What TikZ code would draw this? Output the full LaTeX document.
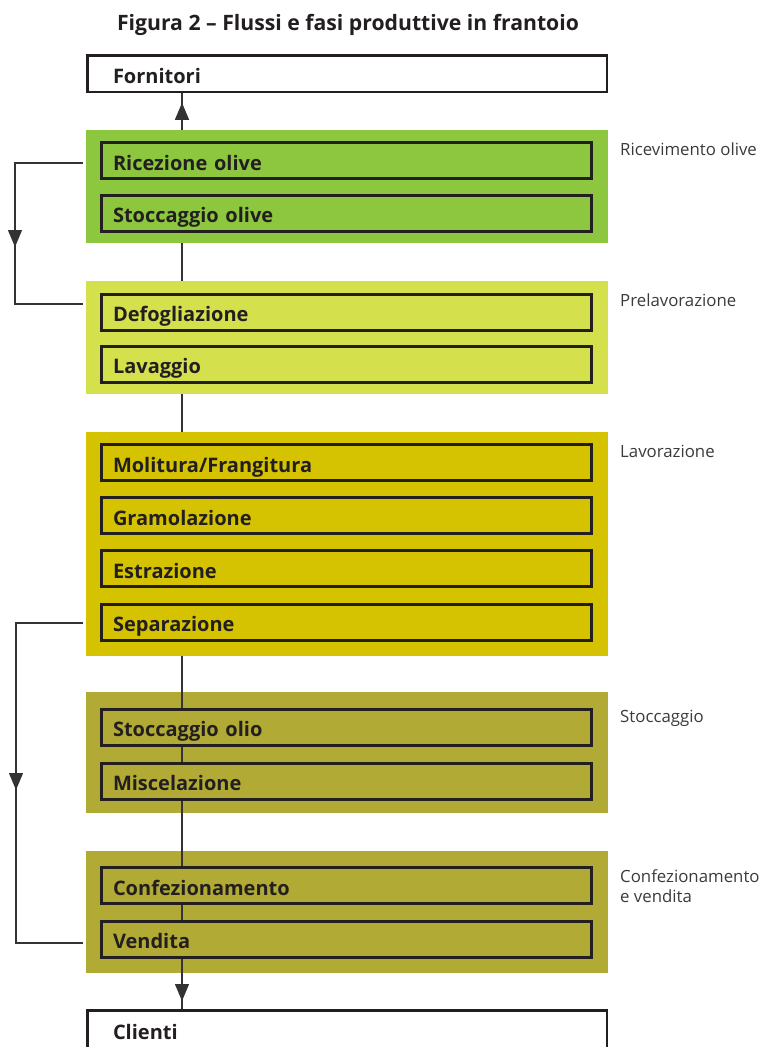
\documentclass[tikz,border=0pt]{standalone}
\usepackage{fontspec}
\setmainfont{Open Sans}
\usetikzlibrary{arrows.meta,decorations.markings}

\definecolor{ink}{HTML}{231F20}
\definecolor{wire}{HTML}{333333}
\definecolor{labelgrey}{HTML}{3A3A3A}
\definecolor{stageA}{HTML}{8DC63F}
\definecolor{stageB}{HTML}{D5E04D}
\definecolor{stageC}{HTML}{D5C200}
\definecolor{stageD}{HTML}{B1AA35}

\begin{document}
\begin{tikzpicture}[x=1pt,y=-1pt,
  stagebg/.style={fill=#1, draw=none, inner sep=0pt, minimum width=522pt},
  phasebox/.style={draw=ink, line width=3pt, fill=#1, text=ink,
    text width=467pt, inner xsep=11.5pt, inner ysep=0pt, align=left,
    minimum height=36pt, text height=19pt, text depth=0pt,
    font=\bfseries\fontsize{20}{22}\selectfont},
  endbox/.style={draw=ink, line width=2.5pt, fill=white, text=ink,
    text width=468pt, inner xsep=25.75pt, inner ysep=0pt, align=left,
    minimum height=36.5pt, text height=19pt, text depth=0pt,
    font=\bfseries\fontsize{20}{22}\selectfont},
  stagelabel/.style={anchor=base west, inner sep=0pt, text=labelgrey,
    font=\fontsize{16.8}{20}\selectfont},
  wireline/.style={draw=wire, line width=1.2pt},
  tipat/.style={postaction={decorate}, decoration={markings,
    mark=at position #1 with {\arrow[wire]{Triangle[width=14pt,length=17pt]}}}}
]
\useasboundingbox (0,0) rectangle (766,1047);

% title
\node[anchor=base, inner sep=0pt, text=ink,
  font=\bfseries\fontsize{21.2}{24}\selectfont] (title) at (348,30)
  {Figura 2 -- Flussi e fasi produttive in frantoio};

% suppliers and customers
\node[endbox] (forn) at (347,73.5) {Fornitori};
\node[endbox, minimum height=38.5pt] (cli) at (347,1029.5) {Clienti};

% stage backgrounds
\node[stagebg=stageA, minimum height=113pt] (g1) at (347,186.5) {};
\node[stagebg=stageB, minimum height=113pt] (g2) at (347,337.5) {};
\node[stagebg=stageC, minimum height=224pt] (g3) at (347,544) {};
\node[stagebg=stageD, minimum height=121pt] (g4) at (347,752.5) {};
\node[stagebg=stageD, minimum height=122pt] (g5) at (347,912) {};

% vertical axis of the main flow
\coordinate (axis) at (182,0);

% flow through the stages (under the phase boxes)
\draw[wireline] (g3.south -| axis) -- (g4.north -| axis);
\draw[wireline] (g4.north -| axis) -- (g4.south -| axis);
\draw[wireline] (g4.south -| axis) -- (g5.north -| axis);
\draw[wireline] (g5.north -| axis) -- (g5.south -| axis);

% phase boxes
\node[phasebox=stageA] (ric) at (346.5,160.5) {Ricezione olive};
\node[phasebox=stageA] (sto) at (346.5,213)   {Stoccaggio olive};
\node[phasebox=stageB] (def) at (346.5,312)   {Defogliazione};
\node[phasebox=stageB] (lav) at (346.5,364)   {Lavaggio};
\node[phasebox=stageC] (mol) at (346.5,462.5) {Molitura/Frangitura};
\node[phasebox=stageC] (gra) at (346.5,515.5) {Gramolazione};
\node[phasebox=stageC] (est) at (346.5,568.5) {Estrazione};
\node[phasebox=stageC] (sep) at (346.5,622)   {Separazione};
\node[phasebox=stageD] (sol) at (346.5,727)   {Stoccaggio olio};
\node[phasebox=stageD] (mis) at (346.5,781)   {Miscelazione};
\node[phasebox=stageD] (con) at (346.5,885.5) {Confezionamento};
\node[phasebox=stageD] (ven) at (346.5,939)   {Vendita};

% stage names
\node[stagelabel] (lab1) at (620,155) {Ricevimento olive};
\node[stagelabel] (lab2) at (620,306) {Prelavorazione};
\node[stagelabel] (lab3) at (620,457) {Lavorazione};
\node[stagelabel] (lab4) at (620,722) {Stoccaggio};
\node[stagelabel] (lab5) at (620,882)
  {\begin{tabular}[t]{@{}l@{}}Confezionamento\\e vendita\end{tabular}};

% main flow between stages
\draw[wireline, tipat=27pt] (g1.north -| axis) -- (forn.south -| axis);
\draw[wireline] (g1.south -| axis) -- (g2.north -| axis);
\draw[wireline] (g2.south -| axis) -- (g3.north -| axis);
\draw[wireline, tipat=42.5pt] (ven.south -| axis) -- (cli.north -| axis);

% side returns
\coordinate (r1a) at (15,163);
\coordinate (r1b) at (15,304);
\draw[wireline, shorten <=3pt, shorten >=3pt]
  (g1.west |- r1a) -- (r1a) -- (r1b) -- (g2.west |- r1b);
\path[wireline, draw=none, tipat=84pt] (r1a) -- (r1b);

\coordinate (r2a) at (16,623);
\coordinate (r2b) at (16,943);
\draw[wireline, shorten <=3pt, shorten >=3pt]
  (g3.west |- r2a) -- (r2a) -- (r2b) -- (g5.west |- r2b);
\path[wireline, draw=none, tipat=167pt] (r2a) -- (r2b);
\end{tikzpicture}
\end{document}
